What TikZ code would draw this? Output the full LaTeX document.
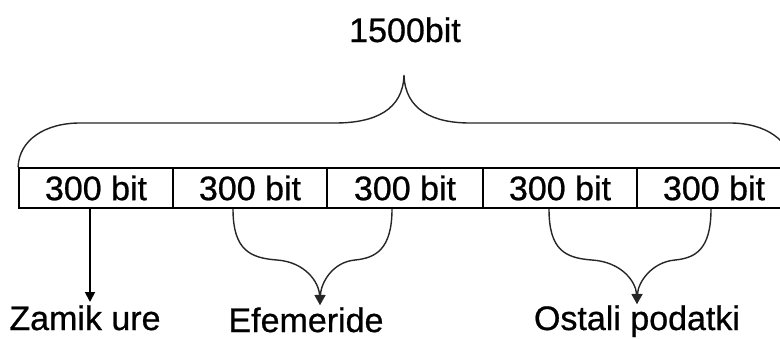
\documentclass[tikz,border=0pt]{standalone}
\usepackage{fontspec}
\setmainfont{Liberation Sans}[BoldFont={Liberation Sans}, BoldFeatures={FakeBold=0.7}]
\usetikzlibrary{arrows.meta}
\begin{document}
\begin{tikzpicture}[x=0.5pt, y=-0.5pt, >={Triangle[length=5pt,width=5pt]},
    font=\fontsize{17}{20}\selectfont\bfseries,
    cell/.style={draw, line width=0.9pt, minimum width=77pt, minimum height=20pt, inner sep=0pt},
    brace/.style={line width=0.7pt, black!85}]
    \useasboundingbox (0,0) rectangle (780,338);
    \clip (0,0) rectangle (780,338);

    % ── Okvir (1500 bit) ─────────────────────────────────────────────
    \node[cell] (c1) at (96,188)  {300 bit};
    \node[cell] (c2) at (250,188) {300 bit};
    \node[cell, minimum width=78pt] (c3) at (405,188) {300 bit};
    \node[cell] (c4) at (560,188) {300 bit};
    \node[cell] (c5) at (714,188) {300 bit};

    \node[anchor=base] (tot) at (405,42) {1500bit};
    \draw[brace] (c1.north west) .. controls (19,140) and (45,123) .. (80,123)
      -- (335,123) .. controls (375,123) and (403,110) .. (404,75)
      .. controls (405,110) and (433,123) .. (470,123)
      -- (730,123) .. controls (765,123) and (791,140) .. (c5.north east);

    % ── Vsebina ──────────────────────────────────────────────────────
    \node[anchor=base] (zam) at (85,330)  {Zamik ure};
    \node[anchor=base] (efe) at (306,332) {Efemeride};
    \node[anchor=base] (ost) at (637,330) {Ostali podatki};
    \coordinate (zamTip) at (90,302);
    \coordinate (efeTip) at (320,305);
    \coordinate (ostTip) at (637,304);

    \draw[->, line width=0.9pt] (c1.south -| zamTip) -- (zamTip);

    \draw[brace, ->] ([xshift=-8.5pt]c2.south) .. controls (233,250) and (250,258) .. (277,260)
      .. controls (305,262) and (319,282) .. (efeTip);
    \draw[brace, ->] ([xshift=-6.5pt]c3.south) .. controls (392,250) and (375,258) .. (355,260)
      .. controls (333,262) and (321,282) .. (efeTip);

    \draw[brace, ->] ([xshift=-5.5pt]c4.south) .. controls (549,250) and (565,258) .. (592,260)
      .. controls (622,262) and (636,282) .. (ostTip);
    \draw[brace, ->] ([xshift=-1.5pt]c5.south) .. controls (711,250) and (695,258) .. (675,260)
      .. controls (652,262) and (638,282) .. (ostTip);
  \end{tikzpicture}
\end{document}
